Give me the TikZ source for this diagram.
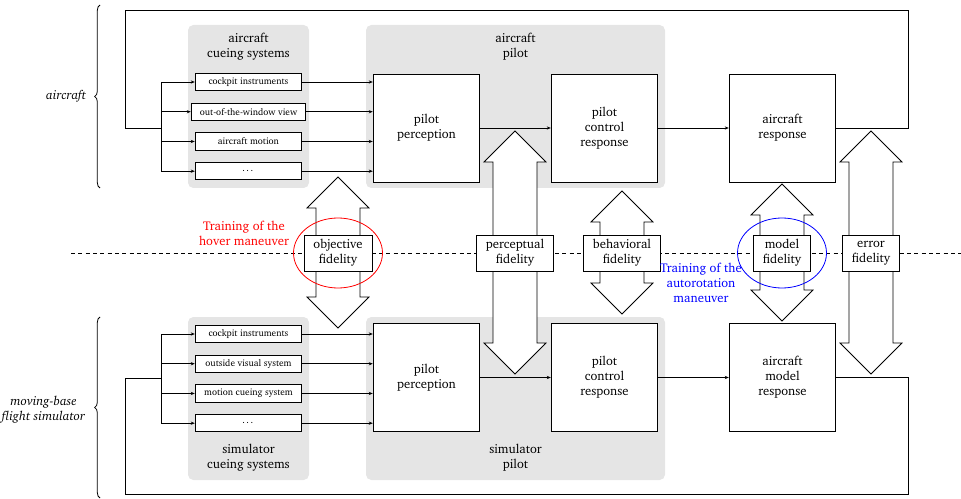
\documentclass[tikz,border=0pt]{standalone}
\usepackage[T1]{fontenc}
\usepackage{charter}
\usepackage{tikz}
\usetikzlibrary{positioning,arrows.meta,decorations.pathreplacing}

\newcommand{\blockfont}{\fontsize{9.5}{11.25}\selectfont}
\newcommand{\cuefont}{\fontsize{7}{8.5}\selectfont}

\tikzset{
  block/.style={draw, fill=white, minimum width=80pt, minimum height=81pt, align=center, font=\blockfont},
  cue/.style={draw, fill=white, minimum width=80pt, minimum height=13pt, inner sep=1pt, font=\cuefont},
  panel/.style={fill=gray!20, rounded corners=4pt},
  title/.style={align=center, font=\blockfont},
  fidbox/.style={draw, fill=white, align=center, minimum height=27pt, inner xsep=7pt, font=\blockfont},
  fatarrow/.style={draw, fill=white},
}

% fat double arrow with a label box: name, x, top tip, bottom tip, text
\newcommand{\fidarrow}[5]{%
  \draw[fatarrow] (#2,#3) -- ++(31,31) -- ++(-9,0) -- (#2+22,#4-31) -- ++(9,0)
    -- (#2,#4) -- ++(-31,-31) -- ++(9,0) -- (#2-22,#3+31) -- ++(-9,0) -- cycle;
  \node[fidbox] (#1) at (#2,253) {#5};
}

\begin{document}
\begin{tikzpicture}[x=0.75pt, y=-0.75pt, line width=0.6pt, node distance=22.3pt, on grid,
    >={Stealth[length=3pt, width=2.4pt]}]
  \useasboundingbox (0,0) rectangle (961,499);

  % grey groups
  \fill[panel] (188,25) rectangle (309,188);
  \fill[panel] (366,25) rectangle (665,188);
  \fill[panel] (188,317) rectangle (309,480);
  \fill[panel] (366,317) rectangle (665,480);

  \node[title] (tcs) at (248.5,46.5) {aircraft\\cueing systems};
  \node[title] (tpl) at (515.5,46.5) {aircraft\\pilot};
  \node[title] (bcs) at (248.5,457.5) {simulator\\cueing systems};
  \node[title] (bpl) at (515.5,457.5) {simulator\\pilot};

  \draw[dash pattern=on 3pt off 2.5pt] (71,253) -- (961,253);

  % aircraft
  \node[cue] (ci) at (248.5,82) {cockpit instruments};
  \node[cue, minimum width=86pt, below=of ci] (ow) {out-of-the-window view};
  \node[cue, below=of ow] (am) {aircraft motion};
  \node[cue, below=of am] (dd) {\dots};

  \node[block] (pp) at (426.5,128) {pilot\\perception};
  \node[block, right=133.5pt of pp] (pc) {pilot\\control\\response};
  \node[block, right=133.5pt of pc] (ar) {aircraft\\response};

  \draw[->] (pp) -- (pc);
  \draw[->] (pc) -- (ar);
  \foreach \src in {ci,ow,am,dd}
    \draw[->] (\src.east) -- (\src.east -| pp.west);

  \coordinate (tbus) at (161,128);
  \draw (ar.east) -| (908,10) -| (125,128) -- (tbus);
  \draw (tbus |- ci.west) -- (tbus |- dd.west);
  \foreach \src in {ci,ow,am,dd}
    \draw[->] (tbus |- \src.west) -- (\src.west);

  % simulator
  \node[cue] (sci) at (248.5,334) {cockpit instruments};
  \node[cue, below=of sci] (sov) {outside visual system};
  \node[cue, below=of sov] (smc) {motion cueing system};
  \node[cue, below=of smc] (sdd) {\dots};

  \node[block] (spp) at (426.5,377.5) {pilot\\perception};
  \node[block, right=133.5pt of spp] (spc) {pilot\\control\\response};
  \node[block, right=133.5pt of spc] (sar) {aircraft\\model\\response};

  \draw[->] (spp) -- (spc);
  \draw[->] (spc) -- (sar);
  \foreach \src in {sci,sov,smc,sdd}
    \draw[->] (\src.east) -- (\src.east -| spp.west);

  \coordinate (bbus) at (161,378);
  \draw (sar.east) -| (908,494) -| (125,378) -- (bbus);
  \draw (bbus |- sci.west) -- (bbus |- sdd.west);
  \foreach \src in {sci,sov,smc,sdd}
    \draw[->] (bbus |- \src.west) -- (\src.west);

  % braces
  \draw[decorate, decoration={brace, amplitude=4pt}] (100,188) -- (100,5);
  \draw[decorate, decoration={brace, amplitude=4pt}] (100,498) -- (100,317);
  \node[anchor=east, font=\blockfont\itshape] (lac) at (91,96) {aircraft};
  \node[anchor=east, align=center, font=\blockfont\itshape] (lsim) at (90,410) {moving-base\\flight simulator};

  % fidelities
  \fidarrow{obj}{338}{177}{328}{objective\\fidelity}
  \fidarrow{per}{515}{131}{374}{perceptual\\fidelity}
  \fidarrow{beh}{622}{191}{314}{behavioral\\fidelity}
  \fidarrow{mod}{782}{184}{321}{model\\fidelity}
  \fidarrow{err}{871}{131}{374}{error\\fidelity}

  % training cases
  \draw[red] (obj) ellipse [x radius=44.5, y radius=35];
  \node[title, text=red] (thov) at (244,233.5) {Training of the\\hover maneuver};
  \draw[blue] (mod) ellipse [x radius=44.5, y radius=35];
  \node[title, text=blue] (taut) at (701,283) {Training of the\\autorotation\\maneuver};
\end{tikzpicture}
\end{document}
